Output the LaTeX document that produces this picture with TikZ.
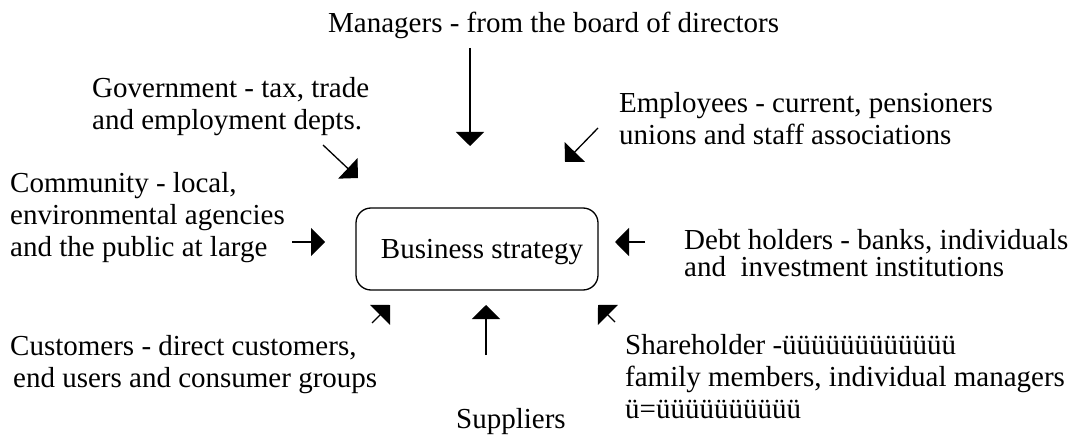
\documentclass[tikz,border=0pt]{standalone}
\usepackage{fontspec}
\setmainfont{Liberation Serif}
\usetikzlibrary{arrows.meta}

\begin{document}
\begin{tikzpicture}[x=1pt, y=-1pt,
    every node/.style={font=\fontsize{29}{32}\selectfont},
    party/.style={inner sep=0pt, anchor=base west, align=left},
    feed/.style={line width=1.3pt, -{Triangle[length=14pt, width=28pt]}}]
  \useasboundingbox (0,0) rectangle (1075,443);

  % Define the coordinates
  \coordinate (mgr-a) at (470,48);
  \coordinate (mgr-b) at (470,146);
  \coordinate (gov-a) at (323,145);
  \coordinate (gov-b) at (358,178);
  \coordinate (emp-a) at (598,128);
  \coordinate (emp-b) at (565,162);
  \coordinate (com-a) at (292,242);
  \coordinate (com-b) at (325,242);
  \coordinate (debt-a) at (645,242);
  \coordinate (debt-b) at (615,242);
  \coordinate (cust-a) at (372,323);
  \coordinate (cust-b) at (390,305);
  \coordinate (sup-a) at (486,355);
  \coordinate (sup-b) at (486,305);
  \coordinate (share-a) at (615,322);
  \coordinate (share-b) at (598,305);

  % Draw the strategy box
  \node[draw, line width=1.3pt, rounded corners=15pt, minimum width=242pt,
    minimum height=82pt, text depth=0pt] (strategy) at (477,249) {\hspace{10pt}Business strategy};

  % Draw the stakeholders (base = last line)
  \node[party] (managers) at (328,33) {Managers - from the board of directors};
  \node[party] (government) at (92,130) {Government - tax, trade\\and employment depts.};
  \node[party] (employees) at (619,145) {Employees - current, pensioners\\unions and staff associations};
  \node[party] (community) at (10,257) {Community - local,\\environmental agencies\\and the public at large};
  \node[party, font=\fontsize{29}{27}\selectfont] (debt) at (684,277)
    {Debt holders - banks, individuals\\and\ \ investment institutions};
  \node[party] (customers) at (10,387) {Customers - direct customers,\\\hspace{3pt}end users and consumer groups};
  \node[party] (suppliers) at (456,428) {Suppliers};
  \node[party] (shareholder) at (625,418)
    {Shareholder -üüüüüüüüüüüü\\family members, individual managers\\ü=üüüüüüüüüü};

  % Draw the arrows
  \draw[feed] (mgr-a) -- (mgr-b);
  \draw[feed] (gov-a) -- (gov-b);
  \draw[feed] (emp-a) -- (emp-b);
  \draw[feed] (com-a) -- (com-b);
  \draw[feed] (debt-a) -- (debt-b);
  \draw[feed] (cust-a) -- (cust-b);
  \draw[feed] (sup-a) -- (sup-b);
  \draw[feed] (share-a) -- (share-b);
\end{tikzpicture}
\end{document}
